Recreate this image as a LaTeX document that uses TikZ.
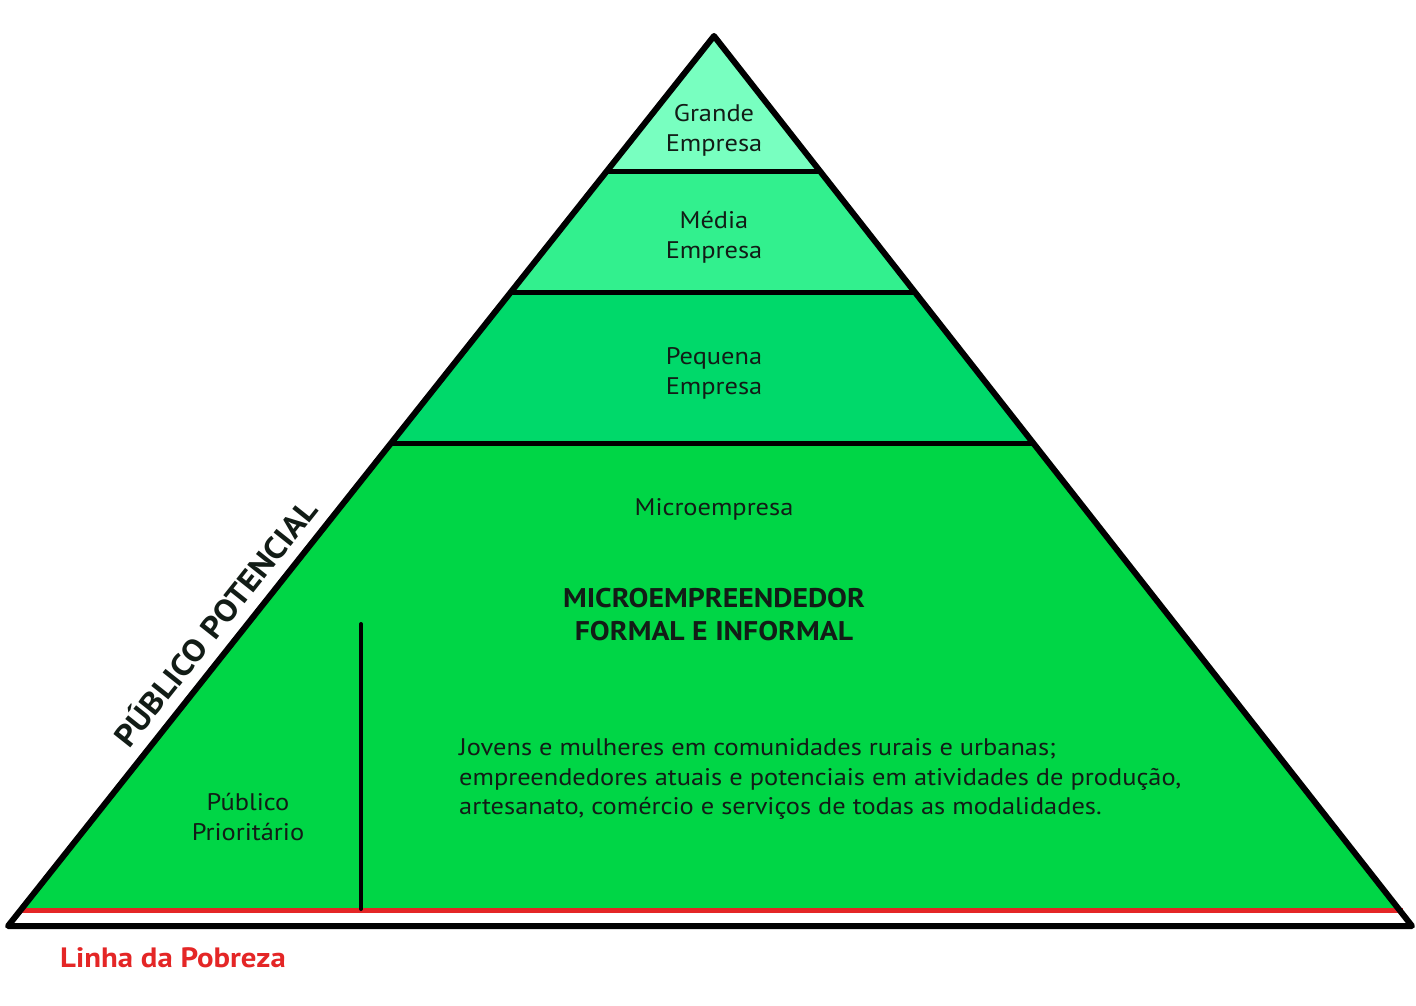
\documentclass[tikz,border=0pt]{standalone}
\usepackage{fontspec}
\setmainfont{PT Sans}[FakeStretch=1.1]
\definecolor{grande}{RGB}{120,255,192}
\definecolor{media}{RGB}{50,240,142}
\definecolor{pequena}{RGB}{0,217,106}
\definecolor{micro}{RGB}{0,214,70}
\definecolor{pobreza}{RGB}{228,38,38}
\definecolor{ink}{RGB}{18,28,22}
\begin{document}
\begin{tikzpicture}[x=1pt,y=-1pt,
  outline/.style={draw=black,line width=6pt,line join=round},
  divider/.style={draw=black,line width=5pt},
  poverty/.style={draw=pobreza,line width=5pt},
  vbar/.style={draw=black,line width=4pt,line cap=round},
  lbl/.style={text=ink,font=\fontsize{24}{30}\selectfont,align=center,inner sep=0pt},
  para/.style={text=ink,font=\fontsize{24}{29.5}\selectfont,align=left,inner sep=0pt},
  head/.style={text=ink,font=\fontsize{27}{33}\selectfont\bfseries,align=center,inner sep=0pt}]
\useasboundingbox (0,0) rectangle (1416,1006);
\fill[white] (0,0) rectangle (1416,1006);
% key points
\coordinate (A) at (714,36);
\coordinate (BL) at (8,926);
\coordinate (BR) at (1412,926);
\coordinate (L1) at (606.9,171);  \coordinate (R1) at (819.9,171);
\coordinate (L2) at (510.9,292);  \coordinate (R2) at (914.8,292);
\coordinate (L3) at (391.1,443);  \coordinate (R3) at (1033.2,443);
\coordinate (L4) at (22.3,908);   \coordinate (R4) at (1397.9,908);
\coordinate (P1) at (22,910);     \coordinate (P2) at (1403,910);
\coordinate (V1) at (361,624);    \coordinate (V2) at (361,909);
% bands
\fill[grande] (A) -- (L1) -- (R1) -- cycle;
\fill[media] (L1) -- (L2) -- (R2) -- (R1) -- cycle;
\fill[pequena] (L2) -- (L3) -- (R3) -- (R2) -- cycle;
\fill[micro] (L3) -- (L4) -- (R4) -- (R3) -- cycle;
\draw[poverty] (P1) -- (P2);
\draw[divider] (L1) -- (R1);
\draw[divider] (L2) -- (R2);
\draw[divider] (L3) -- (R3);
\draw[outline] (A) -- (BL) -- (BR) -- cycle;
\draw[vbar] (V1) -- (V2);
% labels
\node[lbl] (grande) at (714,130) {Grande\\Empresa};
\node[lbl] (media) at (714,237) {Média\\Empresa};
\node[lbl] (pequena) at (714,373) {Pequena\\Empresa};
\node[lbl] (micro) at (714,509) {Microempresa};
\node[head] (mei) at (714,615) {MICROEMPREENDEDOR\\FORMAL E INFORMAL};
\node[para,anchor=west] (desc) at (459,779) {Jovens e mulheres em comunidades rurais e urbanas;\\empreendedores atuais e potenciais em atividades de produção,\\artesanato, comércio e serviços de todas as modalidades.};
\node[lbl] (prio) at (248,817) {Público\\Prioritário};
\node[head,font=\fontsize{31}{36}\selectfont\bfseries,rotate=51.5] (potencial) at (214,622) {PÚBLICO POTENCIAL};
\node[head,font=\fontsize{28}{33}\selectfont\bfseries,text=pobreza,anchor=west] (linha) at (60,958) {Linha da Pobreza};
\end{tikzpicture}
\end{document}
